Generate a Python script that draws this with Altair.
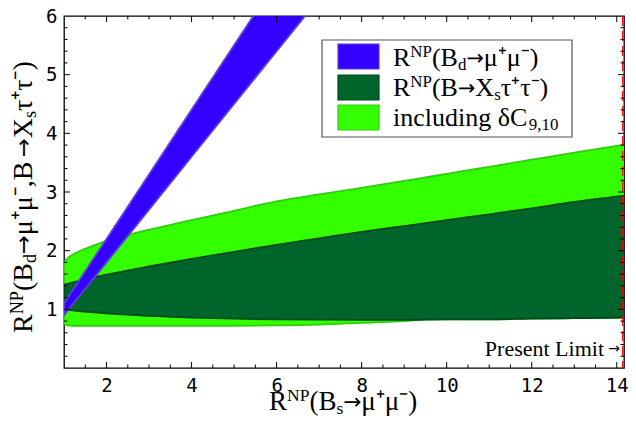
import altair as alt
import pandas as pd

# ---------------- data ----------------
# light green band: "including δC9,10"
lg_x  = [1.0, 1.03, 1.1, 1.2, 1.36, 1.6, 1.9, 2.5, 3.2, 4.0, 5.0, 6.0, 7.0, 8.0, 9.0, 9.6, 10.0, 11.0, 12.0, 13.0, 14.2]
lg_lo = [0.76, 0.74, 0.725, 0.72, 0.72, 0.72, 0.72, 0.72, 0.72, 0.72, 0.72, 0.725, 0.74, 0.77, 0.80, 0.83, 0.83, 0.83, 0.84, 0.85, 0.86]
lg_hi = [1.76, 1.82, 1.88, 1.93, 1.99, 2.06, 2.14, 2.27, 2.39, 2.52, 2.68, 2.84, 2.96, 3.07, 3.19, 3.26, 3.31, 3.43, 3.55, 3.67, 3.81]

# dark green band: R^NP(B -> Xs tau tau)
dk_x  = [1.0, 1.5, 2.0, 3.0, 4.0, 5.0, 6.0, 7.0, 8.0, 9.0, 10.0, 11.0, 12.0, 13.0, 14.2]
dk_lo = [1.00, 0.96, 0.93, 0.89, 0.86, 0.84, 0.83, 0.825, 0.82, 0.82, 0.83, 0.83, 0.84, 0.85, 0.86]
dk_hi = [1.42, 1.51, 1.59, 1.73, 1.86, 1.98, 2.10, 2.21, 2.32, 2.42, 2.52, 2.62, 2.72, 2.83, 2.94]

# blue band: R^NP(Bd -> mu mu)
bd_x  = [1.0, 2.0, 3.0, 4.0, 5.0, 6.0, 7.0]
bd_lo = [0.9, 1.8, 2.7, 3.6, 4.5, 5.4, 6.3]
bd_hi = [1.1, 2.2, 3.3, 4.4, 5.5, 6.6, 7.7]

present_limit = [14.14]

x_major = [2, 4, 6, 8, 10, 12, 14]
x_minor = [1.5, 2.5, 3, 3.5, 4.5, 5, 5.5, 6.5, 7, 7.5, 8.5, 9, 9.5, 10.5, 11, 11.5, 12.5, 13, 13.5]
y_major = [1, 2, 3, 4, 5]
y_minor = [0.2, 0.4, 0.6, 0.8, 1.2, 1.4, 1.6, 1.8, 2.2, 2.4, 2.6, 2.8, 3.2, 3.4, 3.6, 3.8,
           4.2, 4.4, 4.6, 4.8, 5.2, 5.4, 5.6, 5.8]
x_labels = [2, 4, 6, 8, 10, 12, 14]
y_labels = [1, 2, 3, 4, 5, 6]

# ---------------- layout ----------------
W, H = 560, 352
SERIF = "Liberation Serif"
SANS = "DejaVu Sans"
MONO = "DejaVu Sans Mono"

BLUE, BLUE_E = "#3300ff", "#5b3fdb"
DARK, DARK_E = "#00652a", "#004a1e"
LIGHT, LIGHT_E = "#33ff00", "#2ccf0c"

xs = alt.Scale(domain=[1, 14.17], nice=False, zero=False)
ys = alt.Scale(domain=[0, 6], nice=False, zero=False)

x_axis = alt.Axis(values=x_labels, title=None, domain=False, ticks=False, grid=False,
                  labelFont=MONO, labelFontSize=19, labelPadding=8, labelColor="black")
y_axis = alt.Axis(values=y_labels, title=None, domain=False, ticks=False, grid=False,
                  labelFont=MONO, labelFontSize=19, labelPadding=7, labelColor="black")


def band(xv, lo, hi, fill, edge, interp):
    df = pd.DataFrame({"x": xv, "lo": lo, "hi": hi})
    return alt.Chart(df).mark_area(
        color=fill, fillOpacity=1, stroke=edge, strokeWidth=1.8, interpolate=interp, clip=True
    ).encode(
        x=alt.X("x:Q", scale=xs, axis=x_axis),
        y=alt.Y("lo:Q", scale=ys, axis=y_axis),
        y2="hi:Q",
    )


def tick_layer(vals, length, side, field_axis):
    df = pd.DataFrame({"v": vals})
    m = alt.Chart(df).mark_rule(color="black", strokeWidth=1)
    if field_axis == "x":
        enc = dict(x=alt.X("v:Q", scale=xs, axis=x_axis))
        if side == "bottom":
            enc.update(y=alt.value(H), y2=alt.value(H - length))
        else:
            enc.update(y=alt.value(0), y2=alt.value(length))
    else:
        enc = dict(y=alt.Y("v:Q", scale=ys, axis=y_axis))
        if side == "left":
            enc.update(x=alt.value(0), x2=alt.value(length))
        else:
            enc.update(x=alt.value(W), x2=alt.value(W - length))
    return m.encode(**enc)


# advance widths (em) for Liberation Serif pieces; arrow pieces use DejaVu Sans
ADV = {"R": 0.667, "N": 0.722, "P": 0.556, "(": 0.333, ")": 0.333, "B": 0.667, "d": 0.5,
       "s": 0.389, "X": 0.722, " ": 0.25, "i": 0.278, "n": 0.5, "c": 0.444, "l": 0.278,
       "u": 0.5, "g": 0.5, "δ": 0.53, "C": 0.667, "μ": 0.576, "τ": 0.44, "⁺": 0.36,
       "⁻": 0.36, ",": 0.25, "→": 0.838}


def txt(s, x, y, size, angle=0, align="left", font=SERIF):
    return alt.Chart(alt.Data(values=[{"a": 0}])).mark_text(
        text=s, fontSize=size, font=font, angle=angle, align=align,
        baseline="alphabetic", color="black"
    ).encode(x=alt.value(x), y=alt.value(y))


def rich(pieces, x0, y0, fs, angle=0):
    ss = fs * 0.65
    out = []
    adv = 0.0
    for text, kind in pieces:
        size = {"n": fs, "sup": ss, "sub": ss, "arr": fs * 0.8}[kind]
        font = SANS if kind == "arr" else SERIF
        shift = {"n": 0.0, "arr": -0.05 * fs, "sup": -0.33 * fs, "sub": 0.16 * fs}[kind]
        if angle == 0:
            px, py = x0 + adv, y0 + shift
        else:
            px, py = x0 + shift, y0 - adv
        out.append(txt(text, px, py, size, angle=angle, font=font))
        adv += sum(ADV.get(c, 0.5) for c in text) * size
    return out


layers = [
    band(lg_x, lg_lo, lg_hi, LIGHT, LIGHT_E, "monotone"),
    band(dk_x, dk_lo, dk_hi, DARK, DARK_E, "monotone"),
    band(bd_x, bd_lo, bd_hi, BLUE, BLUE_E, "linear"),
    alt.Chart(pd.DataFrame({"v": present_limit})).mark_rule(
        color="#ff0000", strokeWidth=1.3, strokeDash=[10, 5]
    ).encode(x=alt.X("v:Q", scale=xs, axis=x_axis)),
]

# ticks (inward, all four sides)
for side in ("bottom", "top"):
    layers.append(tick_layer(x_major, 6, side, "x"))
    layers.append(tick_layer(x_minor, 3.5, side, "x"))
for side in ("left", "right"):
    layers.append(tick_layer(y_major, 6, side, "y"))
    layers.append(tick_layer(y_minor, 3.5, side, "y"))

# legend box
layers.append(alt.Chart(alt.Data(values=[{"a": 0}])).mark_rect(
    fill="white", stroke="#555555", strokeWidth=1.2
).encode(x=alt.value(258), x2=alt.value(508), y=alt.value(24), y2=alt.value(121)))
for (y1, y2), f, e in zip([(28, 53), (59, 84), (89, 114)], [BLUE, DARK, LIGHT], [BLUE_E, DARK_E, LIGHT_E]):
    layers.append(alt.Chart(alt.Data(values=[{"a": 0}])).mark_rect(
        fill=f, stroke=e, strokeWidth=1.2
    ).encode(x=alt.value(274), x2=alt.value(315), y=alt.value(y1), y2=alt.value(y2)))

LFS = 26
layers += rich([("R", "n"), ("NP", "sup"), ("(B", "n"), ("d", "sub"), ("→", "arr"), ("μ⁺μ⁻)", "n")], 329, 50, LFS)
layers += rich([("R", "n"), ("NP", "sup"), ("(B", "n"), ("→", "arr"), ("X", "n"), ("s", "sub"), ("τ⁺τ⁻)", "n")], 329, 80, LFS)
layers += rich([("including δC", "n"), ("9,10", "sub")], 329, 110, LFS)

# present limit label
layers.append(txt("→", 556, 337, 14, align="right", font=SANS))
layers.append(txt("Present Limit", 540, 340, 22, align="right"))

# axis titles
layers += rich([("R", "n"), ("NP", "sup"), ("(B", "n"), ("s", "sub"), ("→", "arr"), ("μ⁺μ⁻)", "n")], 205, 394, 27)
layers += rich([("R", "n"), ("NP", "sup"), ("(B", "n"), ("d", "sub"), ("→", "arr"), ("μ⁺μ⁻,B", "n"),
                ("→", "arr"), ("X", "n"), ("s", "sub"), ("τ⁺τ⁻)", "n")],
               -32, 317, 28, angle=270)

chart = alt.layer(*layers).properties(
    width=W, height=H,
    autosize=alt.AutoSizeParams(type="none"),
    padding={"left": 56, "top": 8, "right": 4, "bottom": 48},
).configure(
    background="white",
    view=alt.ViewConfig(stroke="black", strokeWidth=1.3),
)

chart.save("out.html", embed_options={"renderer": "svg", "actions": False})
